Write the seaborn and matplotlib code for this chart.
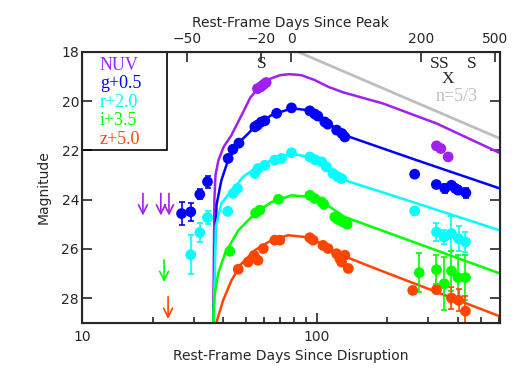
import numpy as np
import pandas as pd
import seaborn as sns
import matplotlib.pyplot as plt
from matplotlib.patches import Rectangle

# plotted magnitudes (band offsets already applied, as in the legend)
bands = ["NUV", "g", "r", "i", "z"]
labels = ["NUV", "g+0.5", "r+2.0", "i+3.5", "z+5.0"]
colors = ["#A020F0", "#0000FF", "#00FFFF", "#00FF00", "#FF4500"]

nuv_t = [56.0, 58.0, 59.5, 61.0, 324.5, 338.6, 363.8]
nuv_m = [19.50, 19.42, 19.33, 19.25, 21.82, 21.93, 22.27]
nuv_e = [0, 0, 0, 0, 0, 0, 0]

g_t = [26.6, 29.1, 31.8, 34.3, 42.0, 44.0, 46.7, 54.6, 56.0, 58.2, 60.2, 67.6, 78.2,
       93.6, 98.3, 101.3, 108.4, 111.6, 121.8, 128.3, 132.0,
       262.0, 324.0, 352.0, 376.0, 391.0, 401.0, 433.0]
g_m = [24.57, 24.50, 23.79, 23.28, 22.33, 21.96, 21.71, 21.05, 20.98, 20.85, 20.80, 20.50, 20.28,
       20.40, 20.53, 20.61, 20.85, 20.94, 21.18, 21.32, 21.46,
       22.97, 23.39, 23.55, 23.42, 23.55, 23.62, 23.73]
g_e = [0.45, 0.37, 0.20, 0.24, 0, 0, 0, 0, 0, 0, 0, 0, 0,
       0, 0, 0, 0, 0, 0, 0, 0,
       0, 0, 0.20, 0.15, 0.10, 0.15, 0.20]

r_t = [29.1, 31.8, 34.3, 41.8, 44.1, 46.0, 54.6, 56.3, 60.2, 66.4, 70.9, 78.2,
       93.6, 98.3, 105.2, 110.1, 117.5, 123.3, 127.9,
       262.0, 324.5, 350.0, 376.0, 403.0, 431.0]
r_m = [26.24, 25.34, 24.73, 24.48, 23.75, 23.55, 22.94, 22.74, 22.61, 22.40, 22.33, 22.10,
       22.27, 22.38, 22.47, 22.67, 22.94, 23.08, 23.15,
       24.46, 25.32, 25.52, 25.38, 25.59, 25.72]
r_e = [0.80, 0.37, 0.28, 0, 0, 0, 0, 0, 0, 0, 0, 0,
       0, 0, 0, 0, 0, 0, 0,
       0, 0.37, 0.30, 0.70, 0.50, 0.40]

i_t = [42.7, 55.0, 57.3, 68.8, 93.6, 98.3, 105.2, 107.4, 119.6, 123.3, 129.6, 135.0,
       274.0, 324.5, 350.0, 376.0, 401.0, 431.0]
i_m = [26.10, 24.55, 24.43, 23.99, 23.83, 23.96, 24.10, 24.19, 24.71, 24.81, 24.91, 25.00,
       26.97, 26.85, 27.42, 26.90, 27.17, 27.17]
i_e = [0.15, 0, 0, 0, 0, 0, 0, 0, 0, 0, 0, 0,
       0.80, 0.58, 1.07, 0.80, 0.90, 0.90]

z_t = [46.4, 51.1, 54.2, 56.3, 59.3, 66.4, 69.8, 93.6, 96.7, 106.6, 112.0, 121.8,
       125.6, 127.9, 132.0, 136.6,
       257.0, 324.5, 376.0, 403.0, 431.0]
z_m = [26.83, 26.54, 26.27, 26.47, 25.99, 25.65, 25.65, 25.55, 25.65, 25.86, 25.99, 26.20,
       26.40, 26.54, 26.26, 26.80,
       27.69, 27.66, 28.00, 28.09, 28.53]
z_e = [0, 0, 0, 0, 0, 0, 0, 0, 0, 0, 0, 0,
       0, 0, 0, 0,
       0.15, 0.15, 0.45, 0.45, 0.60]

# upper limits (arrows)
lim_band = ["NUV", "NUV", "NUV", "i", "z"]
lim_t = [18.2, 21.7, 23.5, 22.4, 23.3]
lim_m = [23.75, 23.75, 23.75, 26.45, 27.95]

# model light curves
nuv_mod_t = [36.3, 36.7, 37.1, 38.2, 40.2, 43.3, 47.5, 52.3, 56.8, 62.5, 70.0, 76.5,
             86.0, 98.3, 112.0, 130.0, 192.0, 324.5, 604.0]
nuv_mod_m = [29.0, 24.0, 23.0, 22.4, 21.86, 21.4, 20.65, 19.85, 19.45, 19.12, 18.95, 18.91,
             18.95, 19.15, 19.42, 19.65, 20.10, 20.91, 22.11]
g_mod_t = [36.4, 36.9, 37.5, 39.3, 42.0, 46.4, 54.6, 64.3, 78.2, 92.0, 108.4, 132.0, 266.6, 604.0]
g_mod_m = [29.0, 25.93, 24.2, 23.22, 22.40, 21.72, 21.05, 20.57, 20.30, 20.37, 20.78, 21.39, 22.40, 23.55]
r_mod_t = [36.4, 37.2, 39.3, 42.7, 44.9, 48.6, 55.5, 64.3, 78.2, 92.0, 108.4, 132.0, 186.0, 604.0]
r_mod_m = [29.0, 25.11, 24.16, 23.72, 23.49, 23.08, 22.70, 22.40, 22.13, 22.27, 22.67, 23.22, 23.67, 25.25]
i_mod_t = [36.3, 36.6, 38.1, 40.7, 46.4, 54.6, 64.3, 78.2, 92.0, 108.4, 132.0, 604.0]
i_mod_m = [29.0, 28.0, 27.0, 26.2, 25.25, 24.57, 24.10, 23.83, 23.89, 24.16, 24.71, 27.0]
z_mod_t = [37.4, 40.0, 43.4, 47.9, 54.6, 64.3, 75.7, 89.1, 105.2, 123.3, 186.0, 604.0]
z_mod_m = [29.0, 28.09, 27.28, 26.6, 26.06, 25.65, 25.45, 25.52, 25.79, 26.2, 26.87, 28.74]

# n=5/3 power law guide
pl_t = [83.2, 604.0]
pl_m = [18.0, 21.52]

# top axis
peak_offset = 78.0
peak_ticks = [-50, -20, 0, 200, 500]

# S / X epoch markers along the top
s_t = [58.2, 319.0, 350.0, 457.0]
x_t = [364.0]

obs = pd.concat([
    pd.DataFrame({"t": t, "mag": m, "err": e, "band": b})
    for b, t, m, e in zip(bands, [nuv_t, g_t, r_t, i_t, z_t], [nuv_m, g_m, r_m, i_m, z_m],
                          [nuv_e, g_e, r_e, i_e, z_e])
])
model = pd.concat([
    pd.DataFrame({"t": t, "mag": m, "band": b})
    for b, t, m in zip(bands, [nuv_mod_t, g_mod_t, r_mod_t, i_mod_t, z_mod_t],
                       [nuv_mod_m, g_mod_m, r_mod_m, i_mod_m, z_mod_m])
])
palette = dict(zip(bands, colors))

sns.set_style("ticks")
plt.rcParams['font.family'] = ['DejaVu Sans']

fig, ax = plt.subplots(figsize=(5.25, 3.75), dpi=100)
fig.subplots_adjust(left=0.156, right=0.952, top=0.862, bottom=0.1395)

ax.plot(pl_t, pl_m, color="#BEBEBE", lw=2)
sns.lineplot(data=model, x="t", y="mag", hue="band", palette=palette, estimator=None,
             lw=1.8, legend=False, ax=ax)

for b in bands:
    sub = obs[(obs.band == b) & (obs.err > 0)]
    ax.errorbar(sub.t, sub.mag, yerr=sub.err, fmt="none", ecolor=palette[b],
                elinewidth=1.2, capsize=2.5, capthick=1.2)
sns.scatterplot(data=obs, x="t", y="mag", hue="band", palette=palette, s=60,
                linewidth=0, legend=False, ax=ax, zorder=3)

for b, t, m in zip(lim_band, lim_t, lim_m):
    ax.annotate("", xy=(t, m + 0.9), xytext=(t, m),
                arrowprops=dict(arrowstyle="->", color=palette[b], lw=1.2,
                                mutation_scale=16, shrinkA=0, shrinkB=0))

ax.set_xscale("log")
ax.set_xlim(10, 604)
ax.set_ylim(29, 18)
ax.set_yticks([18, 20, 22, 24, 26, 28])
ax.set_yticks(np.arange(18, 29.01, 0.5), minor=True)
ax.set_xticks([10, 100])
ax.set_xticklabels(["10", "100"])
ax.tick_params(which="both", direction="in", right=True, width=1.2, labelsize=10)
ax.tick_params(which="major", length=7)
ax.tick_params(which="minor", length=4)
ax.tick_params(axis="y", pad=2)
ax.tick_params(axis="x", pad=5)
for s in ax.spines.values():
    s.set_linewidth(1.5)
ax.set_xlabel("Rest-Frame Days Since Disruption", fontsize=10, labelpad=4)
ax.set_ylabel("Magnitude", fontsize=10, labelpad=8)

top = ax.twiny()
top.set_xscale("log")
top.set_xlim(ax.get_xlim())
top.set_xticks([p + peak_offset for p in peak_ticks])
top.set_xticklabels(["\u221250", "\u221220", "0", "200", "500"])
top.minorticks_off()
top.tick_params(direction="in", length=7, width=1.2, labelsize=10, pad=4)
top.set_xlabel("Rest-Frame Days Since Peak", fontsize=10, labelpad=4)

serif = "Liberation Serif"
for t in s_t:
    ax.text(t, 18.5, "S", ha="center", va="center", fontsize=12.5, family=serif)
for t in x_t:
    ax.text(t, 19.12, "X", ha="center", va="center", fontsize=12.5, family=serif)
ax.text(395, 19.83, "n=5/3", ha="center", va="center", fontsize=13, family=serif,
        color="#BEBEBE")

ax.add_patch(Rectangle((0, 1 - 0.362), 0.203, 0.362, transform=ax.transAxes,
                       fill=False, lw=1.2, edgecolor="black", zorder=4))
for k, (lab, c) in enumerate(zip(labels, colors)):
    ax.text(0.043, 0.951 - 0.0685 * k, lab, transform=ax.transAxes, color=c,
            fontsize=13, family=serif, va="center", ha="left")

plt.savefig("out.png", dpi=100)
